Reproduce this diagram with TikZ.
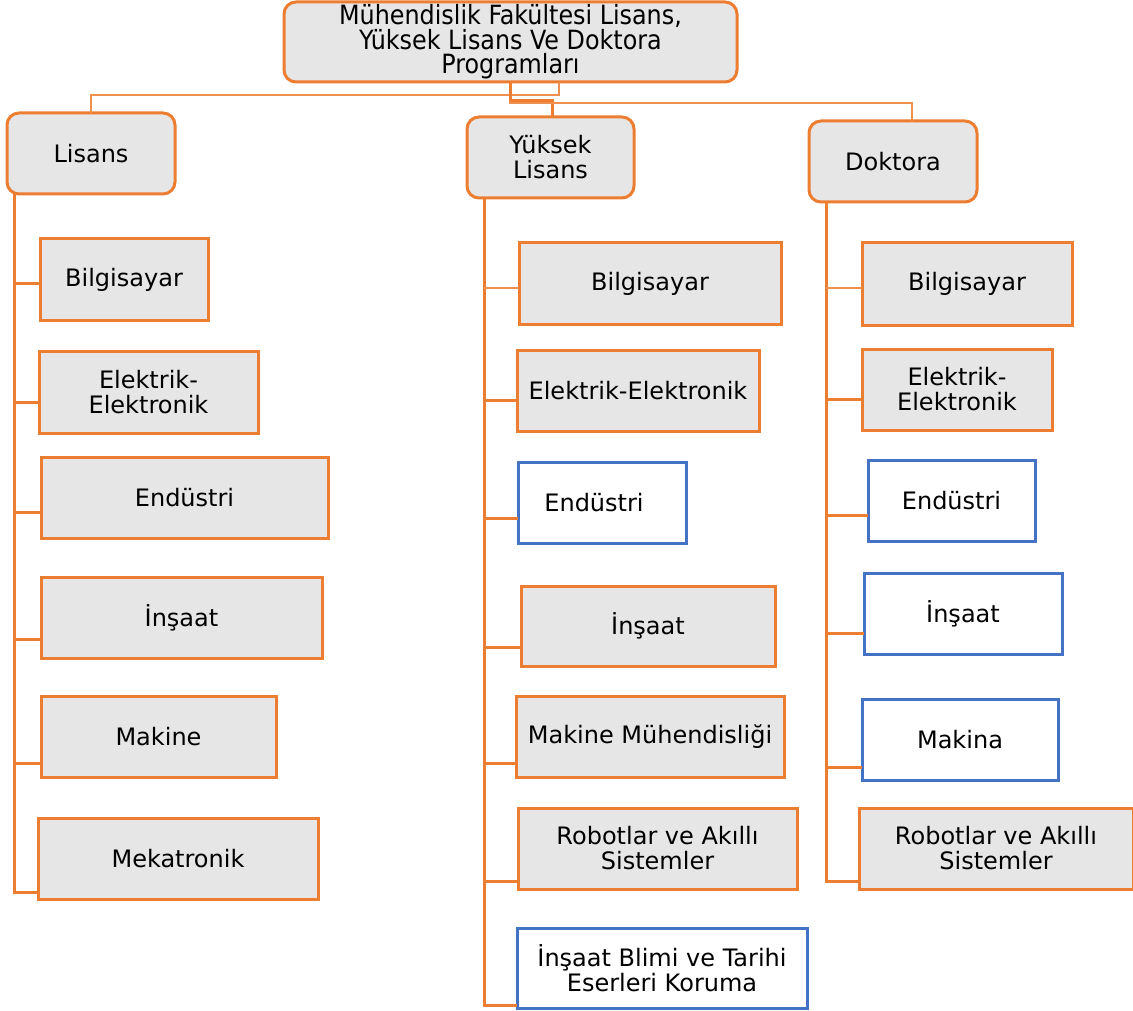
\documentclass[tikz,border=0pt]{standalone}
\usepackage{fontspec}
\setmainfont{DejaVu Sans}
\newfontfamily\condfont{DejaVu Sans Condensed}
\usepackage{tikz}
\usetikzlibrary{positioning,calc}
\definecolor{myorange}{RGB}{237,125,49}
\definecolor{myblue}{RGB}{68,114,196}
\definecolor{mygray}{RGB}{230,230,230}
\tikzset{
  orgpic/.style={
    x=1pt,y=-1pt
    ,inner sep=0pt
    ,outer sep=0pt
    ,font=\fontsize{24}{25}\selectfont
  }
  ,field/.style={draw=myorange,line width=3pt,fill=mygray,align=center}
  ,newfield/.style={field,draw=myblue,fill=white}
  ,level/.style={field,rounded corners=12pt}
  ,head/.style={level,font=\condfont\fontsize{26.5}{24.5}\selectfont}
  ,sz/.style 2 args={minimum width=#1pt,minimum height=#2pt}
  ,trunk/.style={draw=myorange,line width=3pt}
  ,twig/.style={draw=myorange!85,line width=1.3pt}
}
\begin{document}
\begin{tikzpicture}[orgpic]
  \useasboundingbox (0,0) rectangle (1133,1011);

  % levels
  \node[head,sz={453}{80}] (title) at (510.5,42)
    {Mühendislik Fakültesi Lisans,\\Yüksek Lisans Ve Doktora\\Programları};
  \node[level,sz={168}{81}] (lis) at (91,153.5) {Lisans};
  \node[level,sz={167}{81}] (yl) at (550.5,157.5) {Yüksek\\Lisans};
  \node[level,sz={168}{81}] (dok) at (893,161.5) {Doktora};

  % lisans
  \node[field,sz={168}{81}] (lis1) at (124,279.5) {Bilgisayar};
  \node[field,sz={219}{82}] (lis2) at (148.5,392) {Elektrik-\\Elektronik};
  \node[field,sz={287}{81}] (lis3) at (184.5,497.5) {Endüstri};
  \node[field,sz={281}{81}] (lis4) at (181.5,617.5) {İnşaat};
  \node[field,sz={235}{81}] (lis5) at (158.5,736.5) {Makine};
  \node[field,sz={280}{81}] (lis6) at (178,858.5) {Mekatronik};

  % yuksek lisans
  \node[field,sz={262}{81}] (yl1) at (650,283.5) {Bilgisayar};
  \node[field,sz={242}{81}] (yl2) at (638,390.5) {Elektrik-Elektronik};
  \node[newfield,sz={168}{81}] (yl3) at (602,502.5) {\hspace*{-16pt}Endüstri};
  \node[field,sz={254}{80}] (yl4) at (648,626) {İnşaat};
  \node[field,sz={268}{81}] (yl5) at (650,736.5) {Makine Mühendisliği};
  \node[field,sz={279}{81}] (yl6) at (657.5,848.5) {Robotlar ve Akıllı\\Sistemler};
  \node[newfield,sz={290}{80}] (yl7) at (662,968) {İnşaat Blimi ve Tarihi\\Eserleri Koruma};

  % doktora
  \node[field,sz={210}{82}] (dok1) at (967,284) {Bilgisayar};
  \node[field,sz={190}{81}] (dok2) at (957,389.5) {Elektrik-\\Elektronik};
  \node[newfield,sz={167}{81}] (dok3) at (951.5,500.5) {Endüstri};
  \node[newfield,sz={198}{81}] (dok4) at (963,613.5) {İnşaat};
  \node[newfield,sz={196}{81}] (dok5) at (960,739.5) {Makina};
  \node[field,sz={274}{81}] (dok6) at (996,848.5) {Robotlar ve Akıllı\\Sistemler};

  % top links
  \draw[twig] (title.south -| 559,0) -- (559,95) -| (lis.north);
  \draw[trunk] (title.south -| 510,0) -- (510,101) -| ([xshift=1.5pt]yl.north);
  \draw[twig] (510,101) |- (912,103) -- (dok.north -| 912,0);

  % trunks
  \draw[trunk] (lis.south -| 14,0) |- (lis6.west |- 0,892);
  \draw[trunk] (yl.south -| 484,0) |- (yl7.west |- 0,1005);
  \draw[trunk] (dok.south -| 826,0) |- (dok6.west |- 0,881);

  % branches
  \foreach \n/\y in {lis1/284,lis2/402,lis3/512,lis4/639,lis5/763}
    \draw[trunk] (14,\y) -- (\n.west |- 0,\y);
  \draw[twig] (484,288) -- (yl1.west |- 0,288);
  \foreach \n/\y in {yl2/400,yl3/518,yl4/647,yl5/763,yl6/881}
    \draw[trunk] (484,\y) -- (\n.west |- 0,\y);
  \draw[twig] (826,288) -- (dok1.west |- 0,288);
  \foreach \n/\y in {dok2/399,dok3/515,dok4/633,dok5/767}
    \draw[trunk] (826,\y) -- (\n.west |- 0,\y);
\end{tikzpicture}
\end{document}
